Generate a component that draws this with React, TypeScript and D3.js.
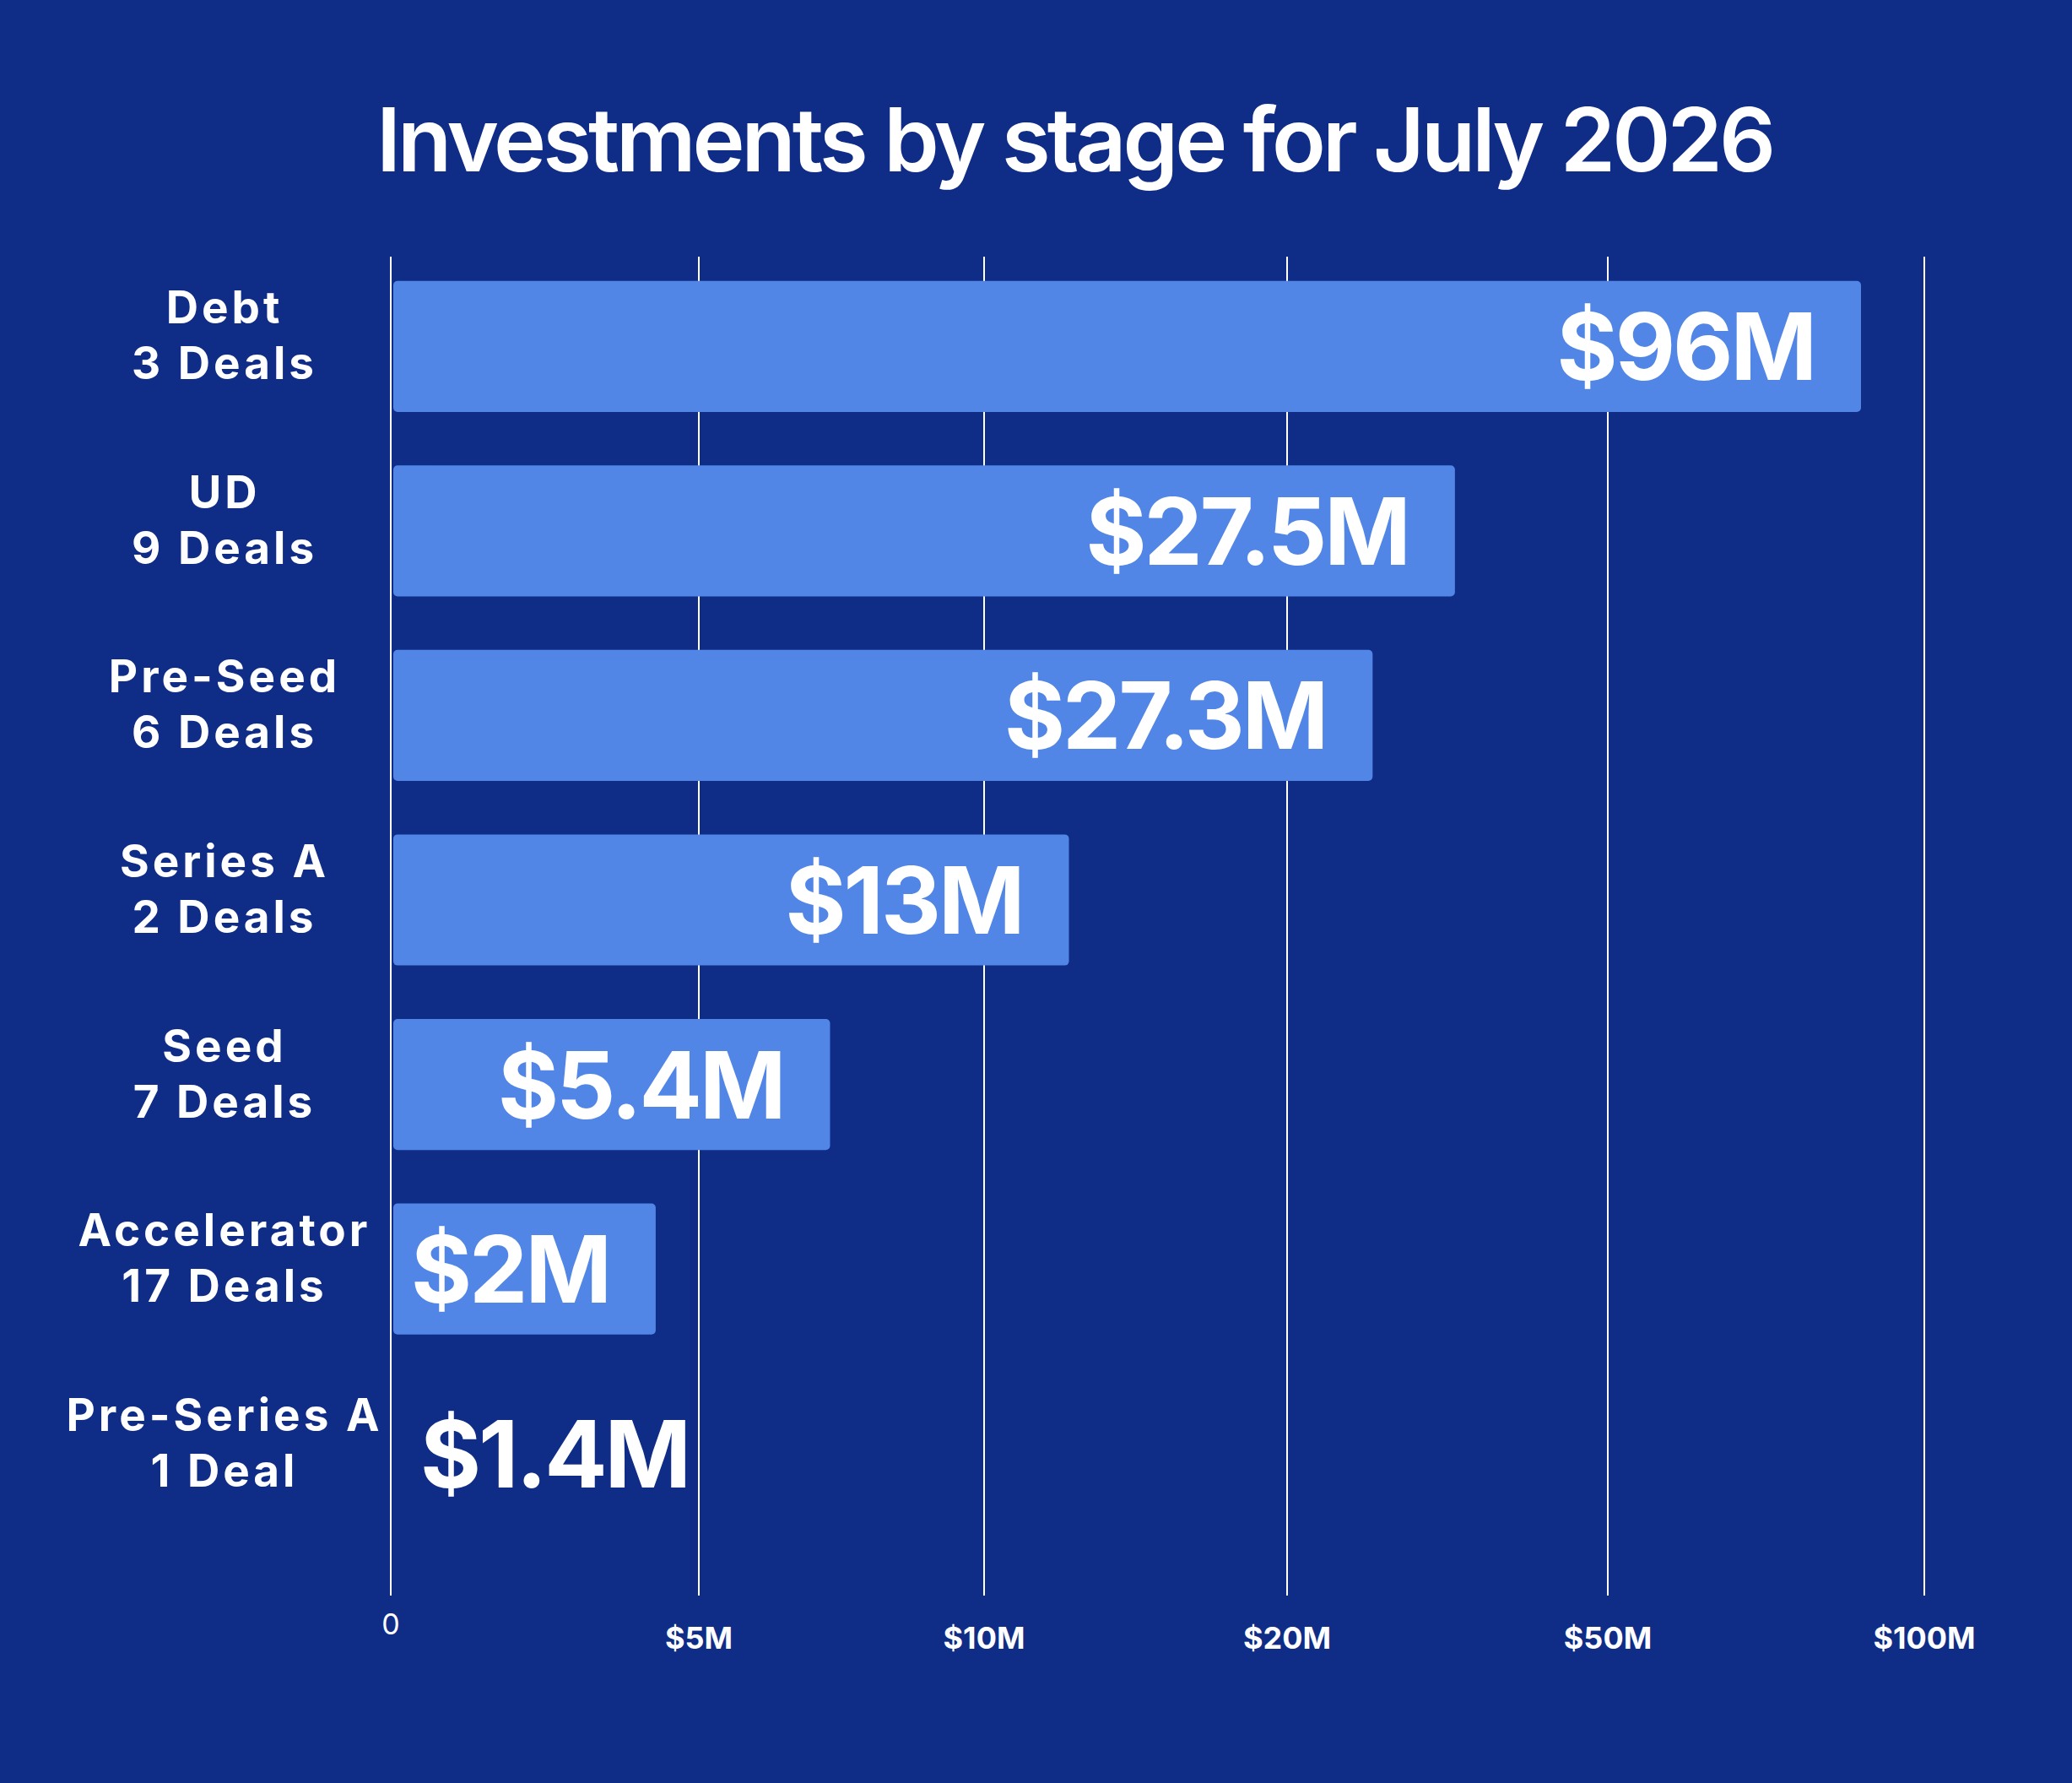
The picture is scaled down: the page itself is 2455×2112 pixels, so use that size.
import { useEffect, useRef } from 'react'
import * as d3 from 'd3'

// stages, top to bottom
const stages = ['Debt', 'UD', 'Pre-Seed', 'Series A', 'Seed', 'Accelerator', 'Pre-Series A']
const dealCounts = [3, 9, 6, 2, 7, 17, 1]
// amounts printed on the bars, $M
const amounts = [96, 27.5, 27.3, 13, 5.4, 2, 1.4]
// bar lengths as drawn, read against the axis gridlines, $M
const barLengths = [90, 35.7, 28, 12.8, 7.3, 4.3, 0]

const tickValues = [0, 5, 10, 20, 50, 100]
const tickLabels = ['0', '$5M', '$10M', '$20M', '$50M', '$100M']

const WIDTH = 2455
const HEIGHT = 2112
const BG = '#0f2c86'
const BAR = '#5186e6'
const FONT = 'Inter, "Noto Sans", sans-serif'

export default function App() {
  const svgRef = useRef<SVGSVGElement>(null)

  useEffect(() => {
    if (!svgRef.current) return
    const svg = d3.select(svgRef.current)
    svg.selectAll('*').remove()

    // uneven axis: gridlines are spaced by position, not by value
    const x = d3.scaleLinear()
      .domain(tickValues)
      .range([463, 828, 1166, 1525, 1905, 2280])

    const y = d3.scaleBand<string>()
      .domain(stages)
      .range([301, 1831])
      .paddingInner(0.29)
      .paddingOuter(0.145)

    svg.append('rect')
      .attr('width', WIDTH)
      .attr('height', HEIGHT)
      .attr('fill', BG)

    // title
    svg.append('text')
      .attr('x', 1273)
      .attr('y', 203)
      .attr('text-anchor', 'middle')
      .style('font-family', FONT)
      .style('font-size', '105px')
      .style('font-weight', '600')
      .style('letter-spacing', '-4px')
      .style('fill', '#ffffff')
      .text('Investments by stage for July 2026')

    // gridlines
    svg.append('g')
      .selectAll('line')
      .data(tickValues)
      .enter()
      .append('line')
      .attr('x1', d => x(d))
      .attr('x2', d => x(d))
      .attr('y1', 304)
      .attr('y2', 1890)
      .attr('stroke', '#ffffff')
      .attr('stroke-width', 2)

    // tick labels
    svg.append('g')
      .selectAll('text')
      .data(tickValues)
      .enter()
      .append('text')
      .attr('x', d => x(d))
      .attr('y', d => (d === 0 ? 1936 : 1953))
      .attr('text-anchor', 'middle')
      .style('font-family', FONT)
      .style('font-size', d => (d === 0 ? '34px' : '36px'))
      .style('font-weight', d => (d === 0 ? '400' : '700'))
      .style('fill', '#ffffff')
      .text((_, i) => tickLabels[i])

    const rows = stages.map((stage, i) => ({
      stage,
      deals: dealCounts[i],
      amount: amounts[i],
      length: barLengths[i]
    }))

    const row = svg.append('g')
      .selectAll('g')
      .data(rows)
      .enter()
      .append('g')

    row.filter(d => d.length > 0)
      .append('rect')
      .attr('x', x(0) + 3)
      .attr('y', d => y(d.stage)!)
      .attr('width', d => x(d.length) - x(0) - 3)
      .attr('height', y.bandwidth())
      .attr('rx', 5)
      .attr('fill', BAR)

    // stage labels
    const label = row.append('text')
      .attr('text-anchor', 'middle')
      .style('font-family', FONT)
      .style('font-size', '53px')
      .style('font-weight', '700')
      .style('letter-spacing', '4px')
      .style('fill', '#ffffff')

    label.append('tspan')
      .attr('x', 266)
      .attr('y', d => y(d.stage)! + y.bandwidth() / 2 - 27)
      .text(d => d.stage)

    label.append('tspan')
      .attr('x', 266)
      .attr('y', d => y(d.stage)! + y.bandwidth() / 2 + 39)
      .text(d => `${d.deals} ${d.deals === 1 ? 'Deal' : 'Deals'}`)

    // amount labels
    row.append('text')
      .attr('x', d => (d.length > 0 ? x(d.length) - 55 : x(0) + 35))
      .attr('y', d => y(d.stage)! + y.bandwidth() / 2 + 40)
      .attr('text-anchor', d => (d.length > 0 ? 'end' : 'start'))
      .style('font-family', FONT)
      .style('font-size', '110px')
      .style('font-weight', '700')
      .style('letter-spacing', '-3px')
      .style('fill', '#ffffff')
      .text(d => `$${d.amount}M`)
  }, [])

  return (
    <svg
      ref={svgRef}
      width={WIDTH}
      height={HEIGHT}
      style={{ position: 'absolute', left: 0, top: 0, display: 'block' }}
    />
  )
}
